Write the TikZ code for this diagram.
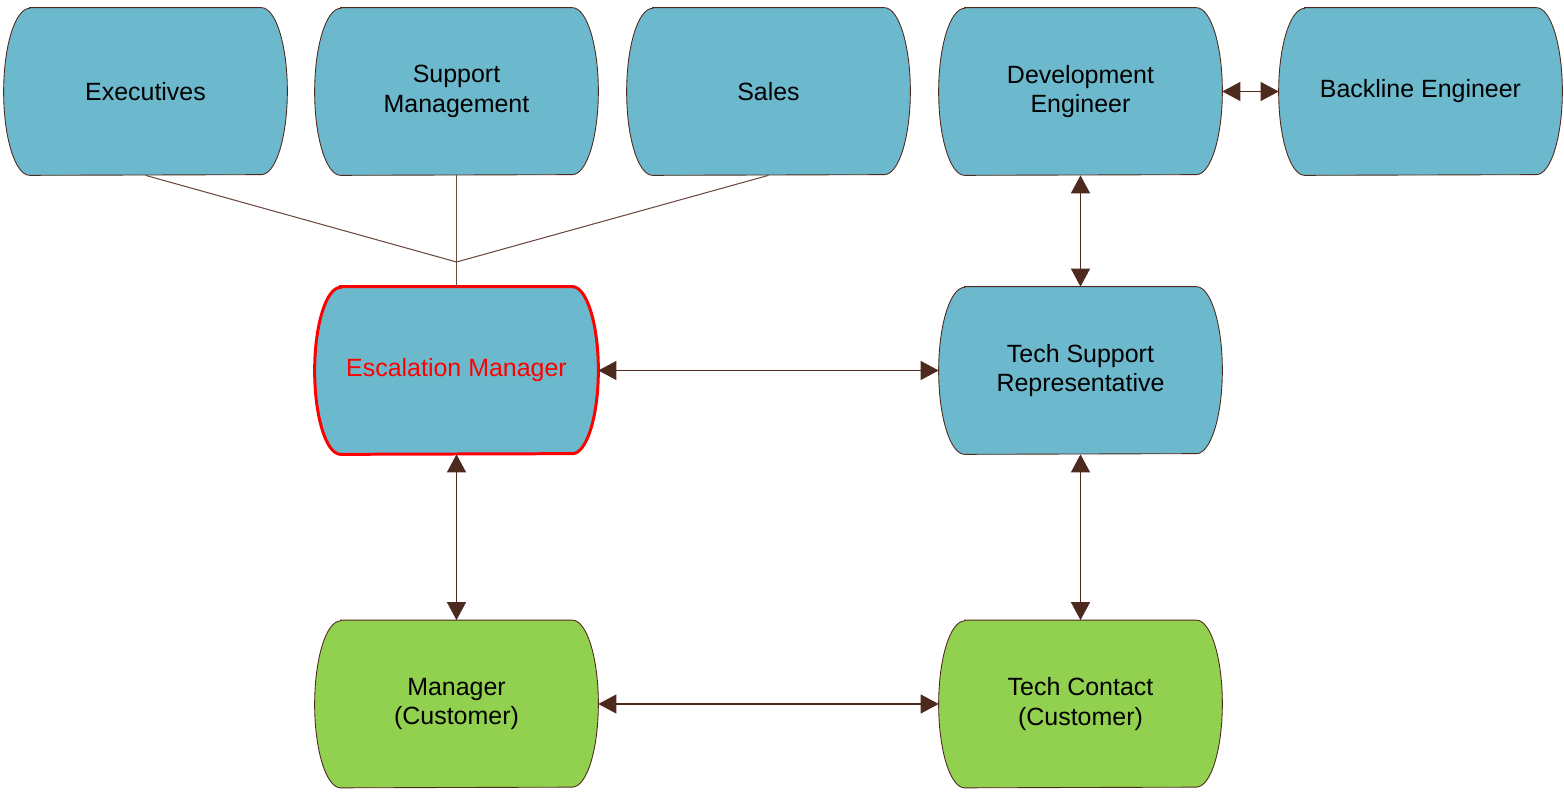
\documentclass[tikz,border=0pt]{standalone}
\usepackage{fontspec}
\setmainfont{Liberation Sans}
\usetikzlibrary{arrows.meta,calc,backgrounds}

\definecolor{roleblue}{HTML}{6CB9CD}
\definecolor{rolegreen}{HTML}{92D050}
\definecolor{edgebrown}{HTML}{4E2A1E}
\definecolor{tiebrown}{HTML}{6B4A40}

\tikzset{
  role/.style={minimum width=5.66cm, minimum height=3.34cm, inner sep=0pt,
    align=center, font=\fontsize{14.2}{17}\selectfont},
  bluerole/.style={fill=roleblue, draw=edgebrown, line width=0.5pt},
  greenrole/.style={fill=rolegreen, draw=edgebrown, line width=0.5pt},
  escrole/.style={fill=roleblue, draw=red, line width=1.7pt},
  link/.style={draw=edgebrown, line width=0.6pt, >={Triangle[length=0.36cm,width=0.38cm]}, <->},
  tie/.style={draw=tiebrown, line width=0.6pt},
}

% outline with bulged sides, around a named node
\newcommand{\roleshape}[2]{%
  \draw[#2] ($(#1.north west)+(0.52,0)$) -- ($(#1.north east)+(-0.52,0)$)
    arc[start angle=90, end angle=-90, x radius=0.52, y radius=1.67]
    -- ($(#1.south west)+(0.52,0)$)
    arc[start angle=270, end angle=90, x radius=0.52, y radius=1.67] -- cycle;}

\begin{document}
\begin{tikzpicture}
\useasboundingbox (0,0) rectangle (31.28,-15.86);

% top row
\node[role] (exec) at (2.91,-1.83) {Executives};
\node[role] (suppmgmt) at (9.13,-1.83) {Support\\Management};
\node[role] (sales) at (15.37,-1.83) {Sales};
\node[role] (deveng) at (21.61,-1.83) {Development\\Engineer};
\node[role] (backline) at (28.41,-1.83) {Backline Engineer};

% middle row
\node[role, text=red] (escmgr) at (9.13,-7.41) {Escalation Manager};
\node[role] (tsr) at (21.61,-7.41) {Tech Support\\Representative};

% customer row
\node[role] (custmgr) at (9.13,-14.08) {Manager\\(Customer)};
\node[role] (techcontact) at (21.61,-14.08) {Tech Contact\\(Customer)};

\begin{scope}[on background layer]
\foreach \n in {exec, suppmgmt, sales, deveng, backline, tsr}
  \roleshape{\n}{bluerole};
\roleshape{escmgr}{escrole}
\foreach \n in {custmgr, techcontact}
  \roleshape{\n}{greenrole};
\end{scope}

\coordinate (join) at (9.13,-5.24);
\draw[tie] (exec.south) -- (join);
\draw[tie] (sales.south) -- (join);
\draw[tie] (suppmgmt.south) -- (join) -- (escmgr.north);

\draw[link] (deveng.east) -- (backline.west);
\draw[link] (deveng.south) -- (tsr.north);
\draw[link] (escmgr.east) -- (tsr.west);
\draw[link] (escmgr.south) -- (custmgr.north);
\draw[link] (tsr.south) -- (techcontact.north);
\draw[link] (custmgr.east) -- (techcontact.west);
\end{tikzpicture}
\end{document}
